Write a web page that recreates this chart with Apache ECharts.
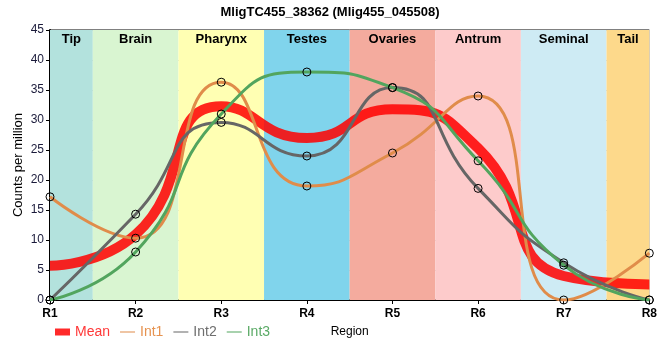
<!DOCTYPE html>
<html><head><meta charset="utf-8">
<script src="https://cdn.jsdelivr.net/npm/echarts@6/dist/echarts.min.js"></script>
<style>html,body{margin:0;padding:0;background:#fff}#c{width:660px;height:360px}</style>
</head><body><div id="c"></div>
<script>
const categories = ['R1','R2','R3','R4','R5','R6','R7','R8'];
const regions = ['Tip','Brain','Pharynx','Testes','Ovaries','Antrum','Seminal','Tail'];
const regionColors = ['#b3e2dd','#d9f5d1','#ffffb3','#80d4ec','#f4ab9e','#fdcbcb','#ceebf4','#fdd98b'];
const meanVals = [5.7, 10.9, 32.3, 27.0, 31.8, 25.3, 4.0, 2.6];
const int1Vals = [17.2, 10.3, 36.3, 19.0, 24.5, 34.0, 0.0, 7.8];
const int2Vals = [0.0, 14.3, 29.6, 24.0, 35.4, 18.6, 6.2, 0.0];
const int3Vals = [0.0, 8.0, 31.0, 38.0, 35.4, 23.2, 5.8, 0.0];
const yTicks = [0,5,10,15,20,25,30,35,40,45];

const toPts = v => v.map((y,i)=>[i+1,y]);
const font = 'Liberation Sans, Arial, sans-serif';
const bands = regions.map((r,i)=>[
  {name:r, xAxis: Math.max(1, i+0.5), itemStyle:{color:regionColors[i]}},
  {xAxis: Math.min(8, i+1.5)}
]);
const lineIcon = 'path://M0,0L0.01,0L0.01,0.01Z M0,2.9L15,2.9L15,4.1L0,4.1Z M0,7L0.01,7L0.01,6.99Z';
const smoothV = 0.55;
const cInt1 = '#e08c4a', cInt2 = '#666666', cInt3 = '#52a55e', cMean = '#ff2a2a';
function intSeries(name, vals, color){
  return {name, type:'line', data: toPts(vals), smooth: smoothV,
    lineStyle:{color, width:3}, itemStyle:{color:'rgba(0,0,0,0)', borderColor:'#000', borderWidth:1},
    symbol:'circle', symbolSize:8, z:3, color};
}
const chart = echarts.init(document.getElementById('c'), null, {renderer:'canvas'});
chart.setOption({
  animation:false,
  textStyle:{fontFamily:font},
  title:{text:'MligTC455_38362 (Mlig455_045508)', left:'center', top:1,
    textStyle:{fontSize:13, fontWeight:'bold', color:'#000', fontFamily:font}},
  grid:{left:50, right:10, top:30, bottom:60, show:true, borderColor:'#000', borderWidth:1, backgroundColor:'transparent'},
  legend:{left:55, top:325, padding:0, itemWidth:15, itemHeight:7, itemGap:10,
    textStyle:{fontSize:14, fontFamily:font, padding:[0,0,0,0]},
    data:[
      {name:'Mean', icon:'rect', itemStyle:{color:cMean, borderWidth:0}, textStyle:{color:'#ff3838'}},
      {name:'Int1', icon:lineIcon, itemStyle:{color:cInt1, borderWidth:0}, textStyle:{color:'#e69350'}},
      {name:'Int2', icon:lineIcon, itemStyle:{color:cInt2, borderWidth:0}, textStyle:{color:'#6e6e6e'}},
      {name:'Int3', icon:lineIcon, itemStyle:{color:cInt3, borderWidth:0}, textStyle:{color:'#5aaa66'}}
    ]},
  xAxis:{type:'value', min:1, max:8, interval:1, name:'Region', nameLocation:'middle', nameGap:26, nameMoveOverlap:false,
    nameTextStyle:{color:'#000', fontSize:12, fontFamily:font},
    axisLine:{lineStyle:{color:'#000', width:2}},
    axisTick:{show:true, length:4, lineStyle:{color:'#000'}},
    axisLabel:{formatter:v=>categories[v-1]||'', color:'#000', fontSize:12, fontWeight:'bold', margin:8},
    splitLine:{show:true, lineStyle:{color:'#c8c8c8', width:1}}},
  yAxis:{type:'value', min:0, max:45, interval:5, name:'Counts per million', nameLocation:'middle', nameGap:25, nameMoveOverlap:false,
    nameTextStyle:{color:'#000', fontSize:13, fontFamily:font},
    axisLine:{show:true, lineStyle:{color:'#000', width:2}},
    axisTick:{show:true, length:4, lineStyle:{color:'#000'}},
    axisLabel:{color:'#1a1a3a', fontSize:12, margin:6, formatter:v=>yTicks.includes(v)?String(v):''},
    splitLine:{show:true, lineStyle:{color:'#c8c8c8', width:1}}},
  series:[
    {name:'bands', type:'line', data:[], silent:true, z:0,
      markArea:{silent:true, data:bands,
        label:{show:true, position:'insideTop', distance:3, color:'#000', fontSize:13, fontWeight:'bold', fontFamily:font}}},
    intSeries('Int1', int1Vals, cInt1),
    intSeries('Int2', int2Vals, cInt2),
    intSeries('Int3', int3Vals, cInt3),
    {name:'Mean', type:'line', data:toPts(meanVals), smooth:smoothV, symbol:'none',
      lineStyle:{color:'rgba(255,0,0,0.85)', width:10}, itemStyle:{color:cMean}, color:cMean, z:2}
  ]
});
</script></body></html>
